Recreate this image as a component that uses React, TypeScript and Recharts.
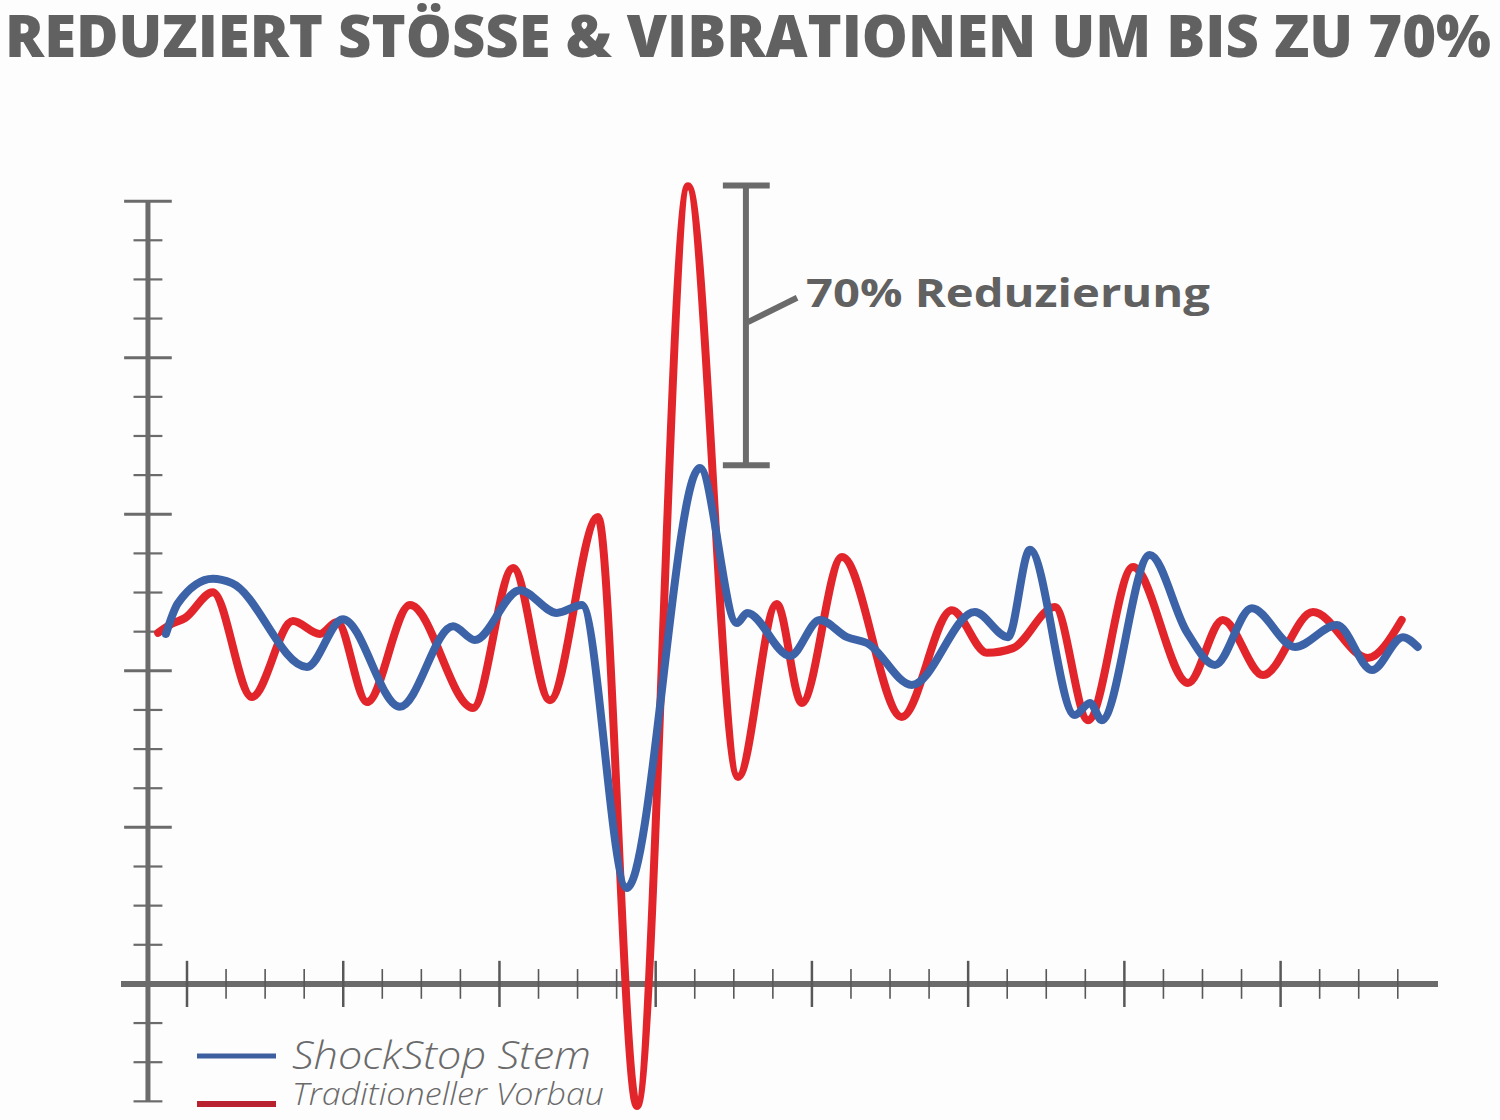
import { LineChart, Line, XAxis, YAxis, ReferenceLine } from "recharts"

// time (minor tick units) / amplitude (minor tick units)
const traditionalT = [0.26, 0.61, 0.95, 1.66, 2.66, 3.71, 4.4, 4.84, 5.61, 6.71, 8.32, 9.35, 10.29, 11.52, 12.52, 13.83, 15.11, 16.1, 16.74, 17.77, 19.3, 20.58, 21.48, 22.15, 23.22, 24.07, 25.22, 26.63, 27.52, 28.55, 29.83, 31.23, 32.1]
const traditionalG = [8.97, 9.2, 9.35, 10.01, 7.33, 9.27, 8.94, 9.25, 7.2, 9.68, 7.05, 10.63, 7.25, 11.93, -3.12, 20.38, 5.29, 9.71, 7.18, 10.91, 6.82, 9.55, 8.46, 8.58, 9.63, 6.74, 10.65, 7.69, 9.3, 7.89, 9.5, 8.33, 9.3]

const shockstopT = [0.46, 0.77, 1.66, 2.15, 4.07, 4.99, 6.45, 7.81, 8.37, 9.52, 10.47, 11.11, 12.26, 14.13, 15.08, 15.34, 16.44, 17.2, 17.9, 18.41, 19.56, 21.17, 22.02, 22.58, 23.73, 24.12, 24.42, 25.65, 26.6, 27.32, 28.26, 29.37, 30.44, 31.34, 32.13, 32.51]
const shockstopG = [8.94, 9.73, 10.35, 10.24, 8.1, 9.32, 7.08, 9.14, 8.79, 10.06, 9.48, 9.68, 2.45, 13.18, 9.22, 9.48, 8.38, 9.3, 8.86, 8.71, 7.64, 9.5, 8.86, 11.09, 6.87, 7.18, 6.74, 10.96, 8.99, 8.15, 9.6, 8.61, 9.17, 8.02, 8.86, 8.61]

const xTicks = Array.from({ length: 32 }, (_, i) => i + 1)
const xMajor = [1, 5, 9, 13, 17, 21, 25, 29]
const yTicks = [-3, -2, -1, 1, 2, 3, 4, 5, 6, 7, 8, 9, 10, 11, 12, 13, 14, 15, 16, 17, 18, 19, 20]
const yMajor = [4, 8, 12, 16, 20]

const traditional = traditionalT.map((t, i) => ({ t, g: traditionalG[i] }))
const shockstop = shockstopT.map((t, i) => ({ t, g: shockstopG[i] }))

const AXIS = "#6b6b6b"
const RED = "#e2252b"
const BLUE = "#3c62a8"

export default function App() {
  return (
    <div style={{ position: "absolute", left: 0, top: 0, width: 1500, height: 1120, background: "#fdfdfd" }}>
      <LineChart width={1500} height={1120} margin={{ top: 162, right: 62, bottom: 3, left: 121 }}>
        <XAxis hide type="number" dataKey="t" domain={[-0.69, 33.03]} allowDataOverflow />
        <YAxis hide type="number" domain={[-3.4, 21]} allowDataOverflow />

        {/* axes */}
        <ReferenceLine segment={[{ x: -0.69, y: 0 }, { x: 33.03, y: 0 }]} stroke={AXIS} strokeWidth={6} ifOverflow="visible" />
        <ReferenceLine segment={[{ x: 0, y: -3.01 }, { x: 0, y: 20 }]} stroke={AXIS} strokeWidth={5} ifOverflow="visible" />
        {xTicks.map((t) => {
          const h = xMajor.includes(t) ? 0.59 : 0.38
          return (
            <ReferenceLine key={"x" + t} segment={[{ x: t, y: -h }, { x: t, y: h }]} stroke="#585858"
              strokeWidth={xMajor.includes(t) ? 2.5 : 1.6} ifOverflow="visible" />
          )
        })}
        {yTicks.map((v) => {
          const w = yMajor.includes(v) ? 0.61 : 0.37
          return (
            <ReferenceLine key={"y" + v} segment={[{ x: -w, y: v }, { x: w, y: v }]} stroke={AXIS}
              strokeWidth={yMajor.includes(v) ? 3 : 2.2} ifOverflow="visible" />
          )
        })}

        {/* 70% bracket */}
        <ReferenceLine segment={[{ x: 15.31, y: 20.4 }, { x: 15.31, y: 13.25 }]} stroke={AXIS} strokeWidth={6} ifOverflow="visible" />
        <ReferenceLine segment={[{ x: 14.72, y: 20.4 }, { x: 15.92, y: 20.4 }]} stroke={AXIS} strokeWidth={6} ifOverflow="visible" />
        <ReferenceLine segment={[{ x: 14.72, y: 13.25 }, { x: 15.92, y: 13.25 }]} stroke={AXIS} strokeWidth={6} ifOverflow="visible" />
        <ReferenceLine segment={[{ x: 15.36, y: 16.91 }, { x: 16.62, y: 17.53 }]} stroke={AXIS} strokeWidth={6} ifOverflow="visible" />

        <Line data={traditional} dataKey="g" type="monotone" stroke={RED} strokeWidth={8} dot={false}
          strokeLinecap="round" isAnimationActive={false} />
        <Line data={shockstop} dataKey="g" type="monotone" stroke={BLUE} strokeWidth={8} dot={false}
          strokeLinecap="round" isAnimationActive={false} />
      </LineChart>

      <svg width={1500} height={1120} style={{ position: "absolute", left: 0, top: 0, pointerEvents: "none" }}>
        <text x={5} y={57} fontFamily="'Open Sans', sans-serif" fontWeight={800} fontSize={59} fill="#616161"
          textLength={1486} lengthAdjust="spacingAndGlyphs">
          REDUZIERT STÖSSE &amp; VIBRATIONEN UM BIS ZU 70%
        </text>
        <text x={806} y={307} fontFamily="'Open Sans', sans-serif" fontWeight={700} fontSize={39} fill="#616161"
          textLength={404} lengthAdjust="spacingAndGlyphs">
          70% Reduzierung
        </text>

        <line x1={197} y1={1056} x2={276} y2={1056} stroke="#3d5f9f" strokeWidth={5} />
        <line x1={197} y1={1104} x2={276} y2={1104} stroke="#b8232f" strokeWidth={6} />
        <text x={292} y={1069} fontFamily="'Open Sans', sans-serif" fontStyle="italic" fontWeight={300} fontSize={38}
          fill="#6a6a6a" textLength={299} lengthAdjust="spacingAndGlyphs">
          ShockStop Stem
        </text>
        <text x={292} y={1105} fontFamily="'Open Sans', sans-serif" fontStyle="italic" fontWeight={300} fontSize={31}
          fill="#6a6a6a" textLength={312} lengthAdjust="spacingAndGlyphs">
          Traditioneller Vorbau
        </text>
      </svg>
    </div>
  )
}
